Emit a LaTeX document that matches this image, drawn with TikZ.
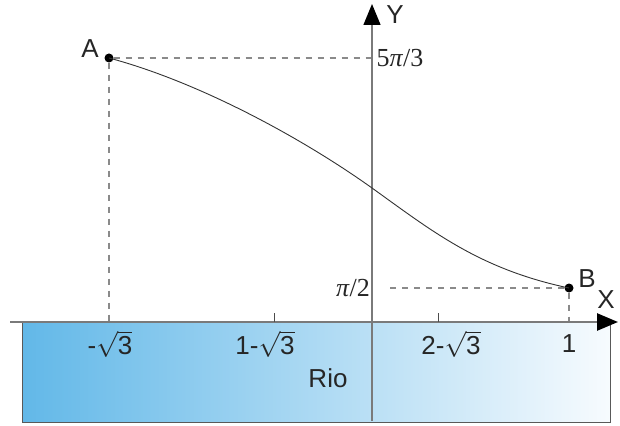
\documentclass[tikz,border=0pt]{standalone}
\usepackage{fix-cm}
\usepackage{fontspec}
\setmainfont{Liberation Sans}
\newfontfamily\serifrm{Liberation Serif}
\usetikzlibrary{arrows.meta}
\definecolor{axisgray}{HTML}{7A7A7A}
\definecolor{dashgray}{HTML}{8A8A8A}
\definecolor{riverL}{HTML}{62B8E8}
\definecolor{riverR}{HTML}{F7FBFE}
\newcommand\rtthree{$\sqrt{\mbox{3}}$}
\tikzset{
  lbl/.style={font=\fontsize{26}{28}\selectfont, inner sep=0pt, text=black!85},
  slbl/.style={font=\serifrm\fontsize{26}{28}\selectfont, inner sep=0pt, text=black!85},
  guide/.style={draw=dashgray, line width=1.2pt, dash pattern=on 6pt off 6pt},
  axisline/.style={draw=axisgray, -{Triangle[length=21pt,width=17pt,color=black]}},
  dotpt/.style={circle, fill=black, inner sep=0pt, minimum size=9pt},
  ticklbl/.style={font=\fontsize{26}{28}\selectfont, inner sep=0pt, text=black!85},
}
\begin{document}
\begin{tikzpicture}[x=1pt,y=-1pt]
\useasboundingbox (0,0) rectangle (620,425);
% river
\shade[left color=riverL, right color=riverR] (22,322) rectangle (610,422);
\draw[black!65, line width=0.8pt] (22,322) -- (22,422) -- (610,422) -- (610,322);
% coordinates
\coordinate (xs) at (10,322);
\coordinate (xe) at (618,322);
\coordinate (ys) at (372,421);
\coordinate (ye) at (372,4);
\coordinate (yA) at (372,58);
\coordinate (yB) at (372,288);
\coordinate (xA) at (109,322);
\coordinate (xB) at (569,322);
\coordinate (M) at (372,188);
\coordinate (t1a) at (274,313);
\coordinate (t1b) at (274,322);
\coordinate (t2a) at (438,313);
\coordinate (t2b) at (438,322);
% points
\node[dotpt] (A) at (109,58) {};
\node[dotpt] (B) at (569,288) {};
% guides
\draw[guide] (A) -- (yA);
\draw[guide] (A) -- (xA);
\draw[guide] (390,288) -- (B);
\draw[guide] (B) -- (xB);
% axes
\draw[axisline, line width=1.4pt] (ys) -- (ye);
\draw[axisline, line width=2.6pt] (xs) -- (xe);
% ticks
\draw[black!70, line width=1pt] (t1a) -- (t1b);
\draw[black!70, line width=1pt] (t2a) -- (t2b);
% curve
\draw[black!80, line width=0.9pt] (A.center) .. controls (199,82) and (302,138) .. (M)
   .. controls (432,231) and (479,269) .. (B.center);
% labels
\node[lbl] (lA) at (90,49) {A};
\node[lbl] (lB) at (587,279) {B};
\node[lbl] (lX) at (606,300) {X};
\node[lbl] (lY) at (395,15) {Y};
\node[slbl] (l53) at (400,58) {5\textit{π}/3};
\node[slbl] (l2) at (353,288) {\textit{π}/2};
\node[ticklbl] (k1) at (110,344) {-\rtthree};
\node[ticklbl] (k2) at (265,344) {1-\rtthree};
\node[ticklbl] (k3) at (451,344) {2-\rtthree};
\node[ticklbl] (k4) at (569,344) {1};
\node[lbl] (rio) at (328,378) {Rio};
\end{tikzpicture}
\end{document}
